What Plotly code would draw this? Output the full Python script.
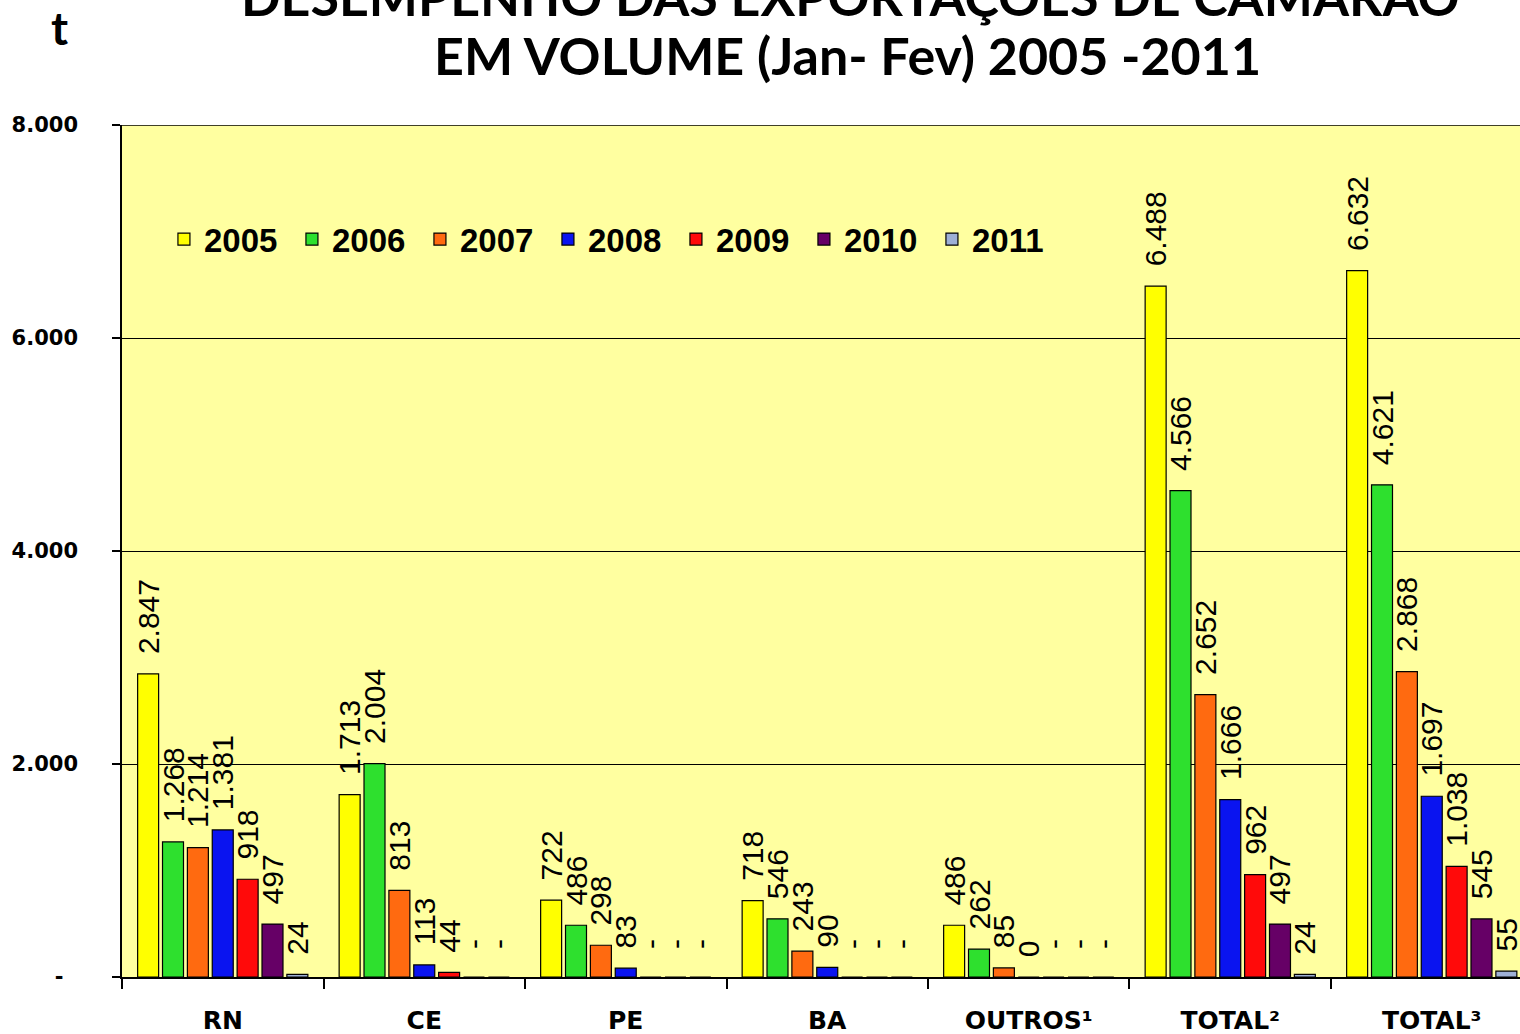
import plotly.graph_objects as go

categories = ["RN", "CE", "PE", "BA", "OUTROS¹", "TOTAL²", "TOTAL³"]
years = ["2005", "2006", "2007", "2008", "2009", "2010", "2011"]

# values per year across categories (None = no data, shown as "-")
v2005 = [2847, 1713, 722, 718, 486, 6488, 6632]
v2006 = [1268, 2004, 486, 546, 262, 4566, 4621]
v2007 = [1214, 813, 298, 243, 85, 2652, 2868]
v2008 = [1381, 113, 83, 90, 0, 1666, 1697]
v2009 = [918, 44, None, None, None, 962, 1038]
v2010 = [497, None, None, None, None, 497, 545]
v2011 = [24, None, None, None, None, 24, 55]

series = [v2005, v2006, v2007, v2008, v2009, v2010, v2011]
colors = ["#FFFF00", "#2EE02E", "#FF6A10", "#0A14F0", "#FF0A0A", "#660066", "#9EB0D6"]

ytick_vals = [0, 2000, 4000, 6000, 8000]
ytick_text = ["-\u00a0\u00a0", "2.000", "4.000", "6.000", "8.000"]

NB = "\u00a0"


def fmt(v):
    if v is None:
        return NB * 3 + "-"
    return NB * 2 + f"{v:,}".replace(",", ".")


fig = go.Figure()
for name, vals, col in zip(years, series, colors):
    fig.add_trace(go.Bar(
        name=name,
        x=categories,
        y=[0 if v is None else v for v in vals],
        text=[fmt(v) for v in vals],
        textposition="outside",
        textangle=-90,
        constraintext="none",
        cliponaxis=False,
        textfont=dict(family="Liberation Sans, Arial", size=30, color="black"),
        marker=dict(color=col, line=dict(color="black", width=1.2)),
    ))

fig.update_layout(
    width=1520, height=1034,
    margin=dict(l=122, r=0, t=125, b=57),
    paper_bgcolor="white",
    plot_bgcolor="#FFFFA0",
    barmode="group",
    bargap=0.136,
    bargroupgap=0.156,
    showlegend=True,
    legend=dict(
        orientation="h",
        x=0.030, y=0.866, xanchor="left", yanchor="middle",
        bgcolor="rgba(0,0,0,0)",
        font=dict(family="Liberation Sans, Arial", size=33, color="black", weight="bold"),
        entrywidth=83, entrywidthmode="pixels",
        traceorder="normal",
    ),
    xaxis=dict(
        type="category",
        range=[-0.5, 6.438],
        showgrid=False,
        showline=True, linecolor="black", linewidth=1.5,
        ticks="outside", tickson="boundaries", ticklen=10, tickcolor="black", tickwidth=1.5,
        ticklabelstandoff=20,
        tickfont=dict(family="DejaVu Sans", size=25, color="black", weight="bold"),
        automargin=False,
    ),
    yaxis=dict(
        range=[0, 8000],
        tickvals=ytick_vals, ticktext=ytick_text,
        showgrid=True, gridcolor="black", gridwidth=1,
        showline=True, linecolor="black", linewidth=1.5,
        ticks="outside", ticklen=8, tickcolor="black", tickwidth=1.5,
        ticklabelstandoff=30,
        tickfont=dict(family="DejaVu Sans", size=21, color="black", weight="bold"),
        zeroline=False,
        automargin=False,
    ),
    shapes=[dict(type="line", xref="paper", yref="y", x0=0, x1=1, y0=8000, y1=8000,
                 line=dict(color="black", width=1.5))],
    annotations=[
        dict(text="DESEMPENHO DAS EXPORTAÇÕES DE CAMARÃO", xref="paper", yref="paper",
             x=(850 - 122) / 1398, y=(977 + 4) / 852, xanchor="center", yanchor="middle",
             showarrow=False, font=dict(family="Lato", size=52, color="black", weight="bold")),
        dict(text="EM VOLUME (Jan- Fev) 2005 -2011", xref="paper", yref="paper",
             x=(848 - 122) / 1398, y=(977 - 55) / 852, xanchor="center", yanchor="middle",
             showarrow=False, font=dict(family="Lato", size=52, color="black", weight="bold")),
        dict(text="t", xref="paper", yref="paper",
             x=(60 - 122) / 1398, y=(977 - 27) / 852, xanchor="center", yanchor="middle",
             showarrow=False, font=dict(family="Lato", size=46, color="black", weight="bold")),
    ],
)

fig.write_html(
    "out.html",
    config={"displayModeBar": False},
    post_script="document.body.style.margin='0';document.body.style.padding='0';"
                "document.body.style.overflow='hidden';",
)
